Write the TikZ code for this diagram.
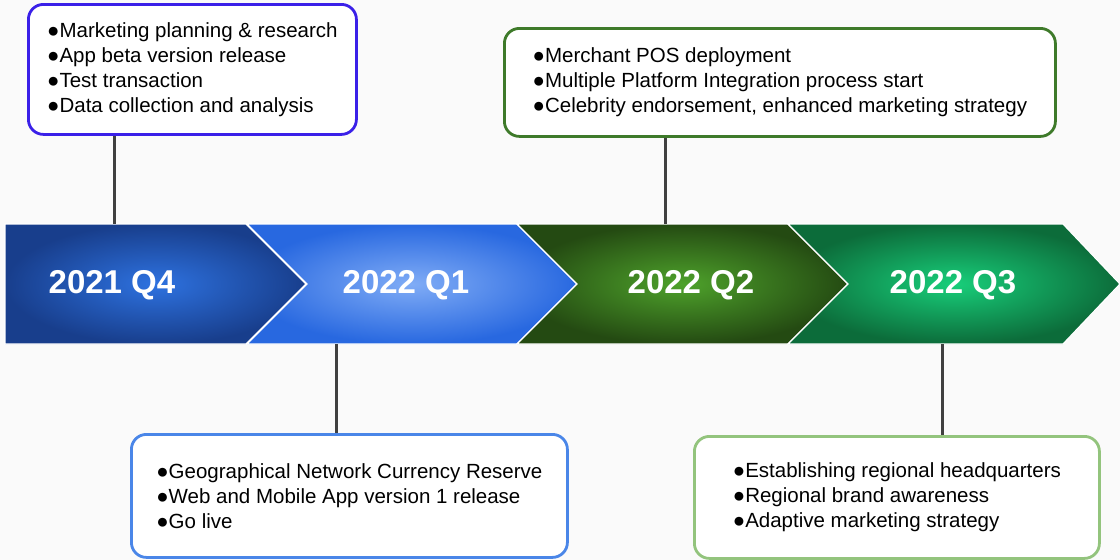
\documentclass[tikz,border=0pt]{standalone}
\usepackage{fontspec}
\setmainfont{Liberation Sans}
\usetikzlibrary{positioning}
\definecolor{Paper}{RGB}{250, 250, 250}
\definecolor{Stem}{RGB}{64, 64, 64}
\definecolor{QfourOut}{RGB}{24, 62, 140}
\definecolor{QfourIn}{RGB}{46, 114, 224}
\definecolor{QoneOut}{RGB}{40, 104, 224}
\definecolor{QoneIn}{RGB}{128, 172, 246}
\definecolor{QtwoOut}{RGB}{36, 74, 18}
\definecolor{QtwoIn}{RGB}{78, 162, 43}
\definecolor{QthreeOut}{RGB}{12, 108, 58}
\definecolor{QthreeIn}{RGB}{24, 206, 122}
\definecolor{EdgeA}{RGB}{58, 32, 232}
\definecolor{EdgeB}{RGB}{62, 122, 42}
\definecolor{EdgeC}{RGB}{74, 134, 232}
\definecolor{EdgeD}{RGB}{147, 196, 125}

\begin{document}
\begin{tikzpicture}[
        x=1pt, y=-1pt,
        chev/.style={draw=white, line width=1.2pt, line join=miter},
        year/.style={text=white, font=\fontsize{33}{38}\selectfont\bfseries, anchor=base},
        card/.style={rectangle, rounded corners=15pt, line width=2.8pt, fill=white, align=left, anchor=north west, font=\fontsize{20.5}{25}\selectfont},
        stem/.style={draw=Stem, line width=3pt}
    ]
        \fill[Paper] (0,0) rectangle (1120,560);
        \useasboundingbox (0,0) rectangle (1120,560);

        % Chevrons
        \shade[chev, inner color=QfourIn, outer color=QfourOut] (5,224) -- (246,224) -- (306,284) -- (246,344) -- (5,344) -- cycle;
        \shade[chev, inner color=QoneIn, outer color=QoneOut] (247,224) -- (517,224) -- (577,284) -- (517,344) -- (247,344) -- (307,284) -- cycle;
        \shade[chev, inner color=QtwoIn, outer color=QtwoOut] (517,224) -- (788,224) -- (848,284) -- (788,344) -- (517,344) -- (577,284) -- cycle;
        \shade[chev, inner color=QthreeIn, outer color=QthreeOut] (788,224) -- (1063,224) -- (1120,284) -- (1063,344) -- (788,344) -- (848,284) -- cycle;

        % Quarters
        \node[year] (q4) at (112,293) {2021 Q4};
        \node[year] (q1) at (406,293) {2022 Q1};
        \node[year] (q2) at (691,293) {2022 Q2};
        \node[year] (q3) at (953,293) {2022 Q3};

        % Cards above
        \node[card, draw=EdgeA, minimum width=328, minimum height=130] (plan) at (27,3) {●Marketing planning \& research\\●App beta version release\\●Test transaction\\●Data collection and analysis};
        \node[card, draw=EdgeB, minimum width=551, minimum height=108] (pos) at (503,27) {●Merchant POS deployment\\●Multiple Platform Integration process start\\●Celebrity endorsement, enhanced marketing strategy};

        % Cards below
        \node[card, draw=EdgeC, minimum width=436, minimum height=123] (live) at (130,433) {●Geographical Network Currency Reserve\\●Web and Mobile App version 1 release\\●Go live};
        \node[card, draw=EdgeD, minimum width=405, minimum height=122] (region) at (693,435) {●Establishing regional headquarters\\●Regional brand awareness\\●Adaptive marketing strategy};

        % Stems
        \coordinate (s4) at (114,224);
        \coordinate (s1) at (336,344);
        \coordinate (s2) at (665,224);
        \coordinate (s3) at (942,344);
        \draw[stem] (plan.south -| s4) -- (s4);
        \draw[stem] (pos.south -| s2) -- (s2);
        \draw[stem] (s1) -- (s1 |- live.north);
        \draw[stem] (s3) -- (s3 |- region.north);
    \end{tikzpicture}
\end{document}
